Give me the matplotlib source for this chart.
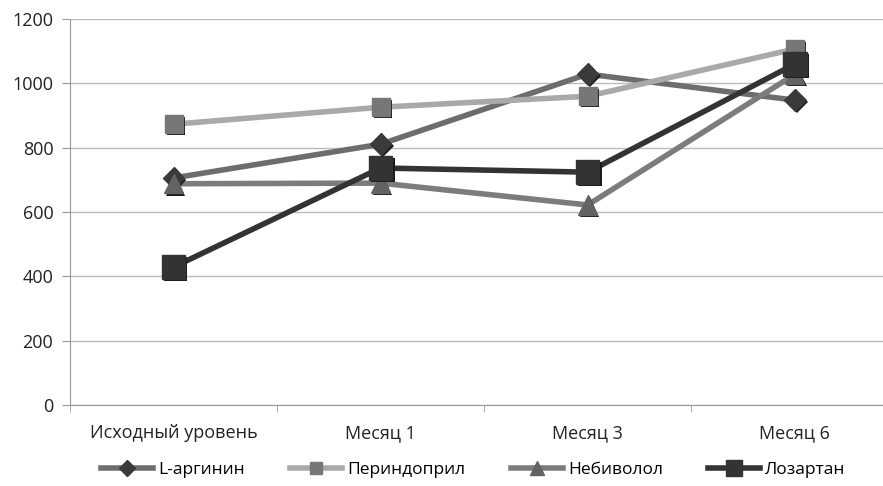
import matplotlib.pyplot as plt
import matplotlib.patheffects as pe

plt.rcParams['font.family'] = ['Open Sans', 'DejaVu Sans']

CATEGORIES = ["Исходный уровень", "Месяц 1", "Месяц 3", "Месяц 6"]
L_ARGININE = [706, 811, 1029, 948]
PERINDOPRIL = [873, 926, 960, 1107]
NEBIVOLOL = [688, 690, 622, 1028]
LOSARTAN = [429, 737, 724, 1060]

series = [
    ("L-аргинин", L_ARGININE, "#6d6d6d", "#3a3a3a", "D", 11),
    ("Периндоприл", PERINDOPRIL, "#a9a9a9", "#777777", "s", 13),
    ("Небиволол", NEBIVOLOL, "#7c7c7c", "#636363", "^", 14),
    ("Лозартан", LOSARTAN, "#333333", "#333333", "s", 17),
]

fig = plt.figure(figsize=(8.83, 4.86), dpi=100)
ax = fig.add_axes([0.0793, 0.1667, 0.938, 0.794])

x = list(range(len(CATEGORIES)))
shadow = [pe.SimplePatchShadow(offset=(1.5, -1.5), shadow_rgbFace="#1a1a1a", alpha=1.0), pe.Normal()]
handles = []
for name, vals, lc, mc, mk, ms in series:
    ax.plot(x, vals, color=lc, linewidth=4, zorder=2, solid_capstyle="butt")
    ax.plot(x, vals, linestyle="none", marker=mk, markersize=ms,
            markerfacecolor=mc, markeredgecolor=mc, zorder=3,
            path_effects=shadow)
    h, = ax.plot([], [], color=lc, linewidth=4, marker=mk, markersize=ms * 0.7,
                 markerfacecolor=mc, markeredgecolor=mc, label=name)
    handles.append(h)

ax.set_xlim(-0.5, len(CATEGORIES) - 0.5)
ax.set_ylim(0, 1200)
ax.set_yticks(range(0, 1201, 200))
ax.set_xticks(x)
ax.set_xticklabels(CATEGORIES)
ax.set_xticks([i - 0.5 for i in range(len(CATEGORIES) + 1)], minor=True)
ax.tick_params(axis="x", which="major", length=0, pad=14, labelsize=13, labelcolor="#222222")
ax.tick_params(axis="x", which="minor", length=5, color="#999999")
ax.tick_params(axis="y", length=6, color="#999999", labelsize=13, labelcolor="#222222", pad=6)
ax.grid(axis="y", color="#bbbbbb", linewidth=1)
ax.set_axisbelow(True)
for s in ["top", "right"]:
    ax.spines[s].set_visible(False)
for s in ["left", "bottom"]:
    ax.spines[s].set_color("#999999")

fig.legend(handles=handles, loc="center", bbox_to_anchor=(0.536, 0.033), ncol=4,
           frameon=False, fontsize=12.5, handlelength=3.0, columnspacing=2.6,
           handletextpad=0.3)

fig.savefig("out.png", dpi=100)
